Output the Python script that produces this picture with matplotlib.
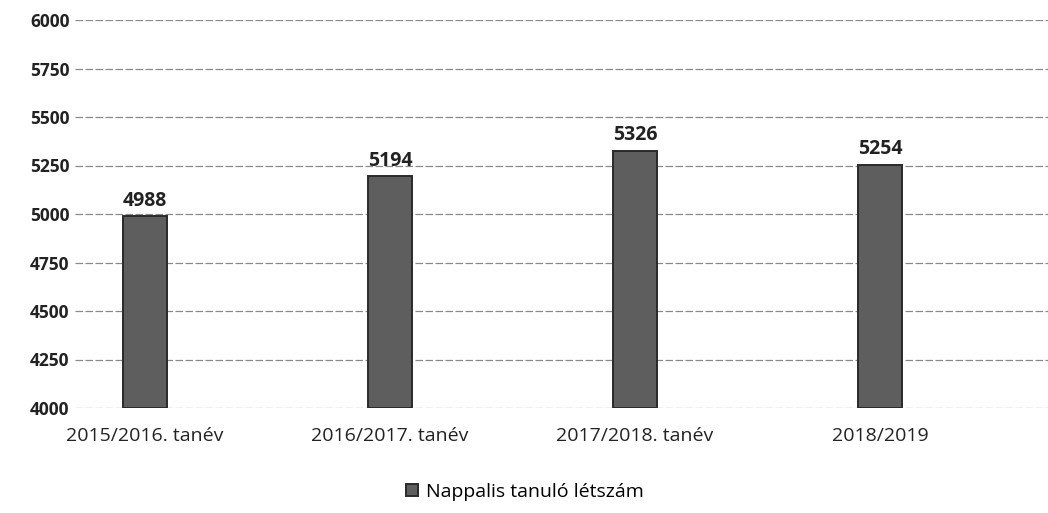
import matplotlib.pyplot as plt
import numpy as np

categories = ['2015/2016. tanév', '2016/2017. tanév', '2017/2018. tanév', '2018/2019']
values = [4988, 5194, 5326, 5254]
series_name = 'Nappalis tanuló létszám'
yticks = [4000, 4250, 4500, 4750, 5000, 5250, 5500, 5750, 6000]

plt.rcParams['font.family'] = ['Open Sans', 'DejaVu Sans']

fig = plt.figure(figsize=(10.48, 5.13), dpi=100)
ax = fig.add_axes([75 / 1048, 1 - 408 / 513, (1048 - 75) / 1048, 388 / 513])

x = np.arange(len(categories))
bars = ax.bar(x, [v - 4000 for v in values], bottom=4000, width=0.18,
              color='#5e5e5e', edgecolor='#2a2a2a', linewidth=1.4, zorder=3,
              label=series_name)

for xi, v in zip(x, values):
    ax.text(xi, v + 30, f'{v}', ha='center', va='bottom', fontsize=14,
            fontweight='bold', color='#222222')

ax.set_ylim(4000, 6000)
ax.set_xlim(-0.286, 3.686)
ax.set_yticks(yticks)
ax.set_yticklabels([str(t) for t in yticks], fontsize=12.5, fontweight='bold', color='#222222')
ax.set_xticks(x)
ax.set_xticklabels(categories, fontsize=14, color='#222222')
ax.tick_params(axis='both', length=0)
ax.tick_params(axis='y', pad=4)
ax.tick_params(axis='x', pad=14)
ax.grid(True, axis='y', color='#8a8a8a', linestyle=(0, (6, 2)), linewidth=0.9, zorder=0)
for s in ax.spines.values():
    s.set_visible(False)

fig.legend(handles=[bars], labels=[series_name], loc='center',
           bbox_to_anchor=(525 / 1048, 1 - 492 / 513), frameon=False,
           fontsize=14, handlelength=0.6, handleheight=0.6, handletextpad=0.4)

fig.savefig('out.png', dpi=100)
